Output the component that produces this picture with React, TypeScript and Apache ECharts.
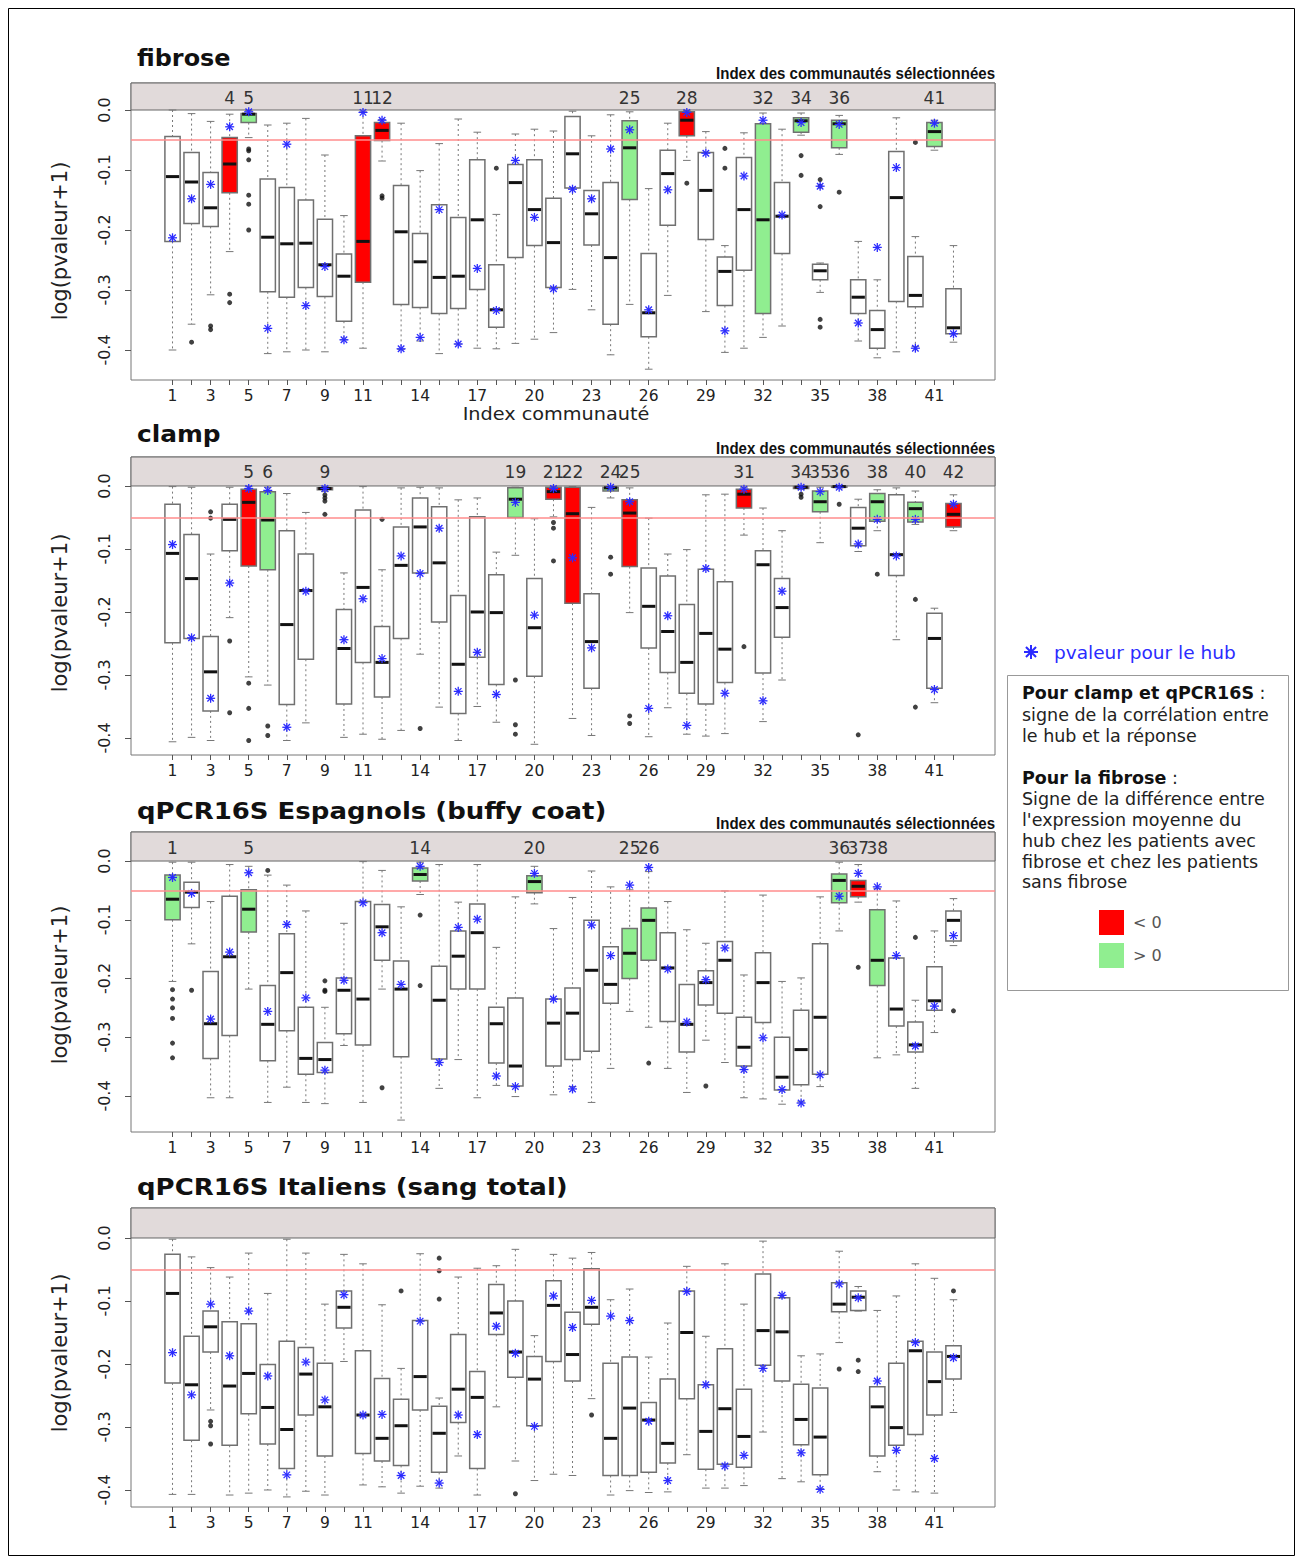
import React, { useEffect, useRef } from "react";
import * as echarts from "echarts";

// ---------- data ----------
const communities = [1,2,3,4,5,6,7,8,9,10,11,12,13,14,15,16,17,18,19,20,21,22,23,24,25,26,27,28,29,30,31,32,33,34,35,36,37,38,39,40,41,42];
const xTickLabels = [1,3,5,7,9,11,14,17,20,23,26,29,32,35,38,41];
const yTickValues = [0, -0.1, -0.2, -0.3, -0.4];
const threshold = -0.05;

// fibrose
const fibLow = [-0.40,-0.357,-0.308,-0.236,-0.046,-0.406,-0.403,-0.40,-0.403,-0.383,-0.397,-0.085,-0.399,-0.385,-0.406,-0.39,-0.397,-0.398,-0.389,-0.382,-0.371,-0.299,-0.333,-0.408,-0.324,-0.432,-0.309,-0.084,-0.336,-0.404,-0.397,-0.379,-0.36,-0.042,-0.304,-0.074,-0.385,-0.413,-0.403,-0.394,-0.067,-0.387];
const fibQ1 = [-0.219,-0.189,-0.194,-0.138,-0.021,-0.303,-0.312,-0.296,-0.311,-0.352,-0.287,-0.051,-0.324,-0.329,-0.339,-0.331,-0.299,-0.362,-0.246,-0.226,-0.296,-0.13,-0.225,-0.357,-0.149,-0.378,-0.192,-0.043,-0.216,-0.326,-0.267,-0.339,-0.239,-0.037,-0.283,-0.063,-0.339,-0.397,-0.319,-0.328,-0.061,-0.373];
const fibMed = [-0.111,-0.12,-0.163,-0.09,-0.007,-0.212,-0.223,-0.222,-0.258,-0.277,-0.219,-0.034,-0.203,-0.253,-0.279,-0.277,-0.183,-0.333,-0.121,-0.166,-0.221,-0.073,-0.173,-0.246,-0.063,-0.338,-0.106,-0.017,-0.134,-0.269,-0.166,-0.183,-0.177,-0.018,-0.268,-0.023,-0.312,-0.366,-0.146,-0.309,-0.036,-0.363];
const fibQ3 = [-0.044,-0.071,-0.104,-0.046,-0.006,-0.115,-0.129,-0.15,-0.182,-0.24,-0.043,-0.021,-0.126,-0.206,-0.158,-0.179,-0.083,-0.258,-0.091,-0.083,-0.147,-0.011,-0.134,-0.121,-0.018,-0.239,-0.067,-0.003,-0.071,-0.245,-0.079,-0.023,-0.121,-0.013,-0.257,-0.017,-0.283,-0.334,-0.069,-0.244,-0.021,-0.298];
const fibHigh = [0,-0.006,-0.019,-0.007,-0.001,-0.025,-0.022,-0.014,-0.075,-0.176,-0.003,-0.016,-0.022,-0.101,-0.056,-0.015,-0.037,-0.174,-0.04,-0.032,-0.035,-0.002,-0.043,-0.008,-0.003,-0.131,-0.022,-0.001,-0.036,-0.226,-0.038,-0.005,-0.032,-0.005,-0.255,-0.009,-0.219,-0.283,-0.013,-0.211,-0.017,-0.226];
const fibHub = [-0.213,-0.148,-0.124,-0.028,-0.003,-0.364,-0.057,-0.326,-0.261,-0.383,-0.004,-0.017,-0.398,-0.379,-0.166,-0.39,-0.264,-0.334,-0.084,-0.179,-0.298,-0.132,-0.148,-0.065,-0.033,-0.333,-0.133,-0.004,-0.072,-0.368,-0.11,-0.017,-0.175,-0.021,-0.127,-0.024,-0.355,-0.229,-0.096,-0.397,-0.022,-0.373];
const fibOut = [[2,-0.387],[3,-0.36],[3,-0.366],[4,-0.307],[4,-0.321],[5,-0.065],[5,-0.068],[5,-0.083],[5,-0.142],[5,-0.157],[5,-0.2],[12,-0.143],[12,-0.147],[18,-0.097],[28,-0.122],[30,-0.064],[30,-0.097],[34,-0.076],[34,-0.109],[35,-0.116],[35,-0.127],[35,-0.161],[35,-0.349],[35,-0.362],[36,-0.137],[40,-0.054]];
const fibRed = [4, 11, 12, 28];
const fibGreen = [5, 25, 32, 34, 36, 41];

// clamp
const clpLow = [-0.406,-0.399,-0.404,-0.209,-0.303,-0.316,-0.404,-0.376,-0.009,-0.399,-0.394,-0.402,-0.388,-0.267,-0.351,-0.404,-0.35,-0.375,-0.11,-0.41,-0.049,-0.369,-0.396,-0.019,-0.201,-0.398,-0.352,-0.394,-0.397,-0.393,-0.078,-0.374,-0.308,-0.005,-0.09,-0.003,-0.104,-0.071,-0.244,-0.061,-0.344,-0.071];
const clpQ1 = [-0.249,-0.242,-0.357,-0.103,-0.127,-0.133,-0.347,-0.275,-0.006,-0.346,-0.28,-0.335,-0.242,-0.138,-0.216,-0.361,-0.272,-0.315,-0.05,-0.302,-0.021,-0.186,-0.321,-0.008,-0.128,-0.257,-0.296,-0.329,-0.346,-0.312,-0.035,-0.297,-0.24,-0.004,-0.041,-0.002,-0.095,-0.056,-0.142,-0.057,-0.321,-0.065];
const clpMed = [-0.107,-0.147,-0.295,-0.053,-0.026,-0.054,-0.22,-0.166,-0.004,-0.258,-0.161,-0.28,-0.126,-0.065,-0.122,-0.283,-0.2,-0.201,-0.021,-0.225,-0.009,-0.044,-0.247,-0.003,-0.043,-0.191,-0.231,-0.28,-0.234,-0.259,-0.013,-0.125,-0.193,-0.002,-0.025,-0.001,-0.067,-0.025,-0.109,-0.036,-0.242,-0.045];
const clpQ3 = [-0.029,-0.077,-0.239,-0.029,-0.005,-0.009,-0.071,-0.108,-0.003,-0.196,-0.038,-0.223,-0.065,-0.019,-0.033,-0.174,-0.049,-0.141,-0.003,-0.147,-0.002,-0.002,-0.171,-0.002,-0.022,-0.13,-0.143,-0.188,-0.132,-0.152,-0.005,-0.103,-0.147,-0.001,-0.008,-0.0005,-0.034,-0.012,-0.014,-0.026,-0.202,-0.028];
const clpHigh = [-0.001,-0.002,-0.108,-0.002,-0.001,-0.002,-0.012,-0.042,-0.001,-0.138,-0.001,-0.133,-0.003,-0.002,-0.003,-0.022,-0.019,-0.105,-0.002,-0.052,-0.001,-0.001,-0.034,-0.001,-0.003,-0.051,-0.108,-0.101,-0.014,-0.013,-0.002,-0.035,-0.071,0,-0.002,0,-0.021,-0.006,-0.003,-0.008,-0.194,-0.014];
const clpHub = [-0.093,-0.241,-0.337,-0.154,-0.004,-0.007,-0.383,-0.167,-0.004,-0.244,-0.179,-0.274,-0.111,-0.139,-0.067,-0.326,-0.264,-0.331,-0.026,-0.205,-0.004,-0.114,-0.257,-0.002,-0.025,-0.353,-0.206,-0.38,-0.131,-0.329,-0.005,-0.341,-0.167,-0.002,-0.009,-0.002,-0.092,-0.053,-0.111,-0.053,-0.323,-0.029];
const clpOut = [[3,-0.041],[3,-0.051],[4,-0.246],[4,-0.36],[5,-0.313],[5,-0.353],[5,-0.404],[6,-0.381],[6,-0.396],[9,-0.014],[9,-0.019],[9,-0.024],[9,-0.045],[12,-0.053],[14,-0.385],[19,-0.308],[19,-0.379],[19,-0.394],[21,-0.058],[21,-0.067],[21,-0.119],[24,-0.113],[24,-0.14],[25,-0.365],[25,-0.377],[31,-0.255],[34,-0.013],[34,-0.018],[36,-0.029],[37,-0.395],[38,-0.14],[40,-0.18],[40,-0.351]];
const clpRed = [5, 9, 21, 22, 25, 31, 34, 42];
const clpGreen = [6, 19, 24, 35, 36, 38, 40];

// qPCR16S Espagnols
const espLow = [-0.205,-0.141,-0.403,-0.403,-0.218,-0.411,-0.385,-0.411,-0.413,-0.314,-0.411,-0.218,-0.441,-0.057,-0.387,-0.338,-0.403,-0.382,-0.401,-0.073,-0.398,-0.384,-0.411,-0.353,-0.256,-0.283,-0.353,-0.394,-0.305,-0.343,-0.403,-0.405,-0.414,-0.41,-0.384,-0.119,-0.07,-0.335,-0.33,-0.387,-0.292,-0.144];
const espQ1 = [-0.1,-0.079,-0.336,-0.297,-0.121,-0.34,-0.289,-0.363,-0.36,-0.294,-0.313,-0.169,-0.333,-0.034,-0.337,-0.218,-0.218,-0.344,-0.383,-0.054,-0.349,-0.338,-0.324,-0.242,-0.2,-0.169,-0.273,-0.325,-0.245,-0.259,-0.349,-0.275,-0.39,-0.381,-0.363,-0.071,-0.061,-0.212,-0.281,-0.325,-0.254,-0.136];
const espMed = [-0.065,-0.053,-0.277,-0.163,-0.082,-0.278,-0.19,-0.336,-0.338,-0.22,-0.235,-0.112,-0.218,-0.023,-0.237,-0.162,-0.122,-0.277,-0.349,-0.035,-0.276,-0.259,-0.186,-0.21,-0.157,-0.101,-0.182,-0.278,-0.207,-0.169,-0.317,-0.207,-0.368,-0.321,-0.266,-0.033,-0.043,-0.169,-0.252,-0.313,-0.238,-0.101];
const espQ3 = [-0.024,-0.036,-0.188,-0.06,-0.049,-0.212,-0.124,-0.249,-0.309,-0.199,-0.069,-0.074,-0.17,-0.012,-0.179,-0.119,-0.073,-0.249,-0.233,-0.025,-0.235,-0.216,-0.101,-0.146,-0.115,-0.08,-0.122,-0.21,-0.187,-0.137,-0.266,-0.156,-0.3,-0.254,-0.141,-0.022,-0.033,-0.083,-0.165,-0.274,-0.18,-0.085];
const espHigh = [-0.002,-0.002,-0.069,-0.006,-0.009,-0.024,-0.041,-0.085,-0.249,-0.106,-0.001,-0.016,-0.078,-0.002,-0.006,-0.07,-0.006,-0.147,-0.061,-0.009,-0.115,-0.062,-0.017,-0.044,-0.049,-0.018,-0.069,-0.117,-0.14,-0.051,-0.194,-0.058,-0.205,-0.199,-0.061,-0.002,-0.006,-0.047,-0.068,-0.237,-0.119,-0.064];
const espHub = [-0.028,-0.055,-0.269,-0.155,-0.02,-0.256,-0.108,-0.233,-0.356,-0.203,-0.071,-0.122,-0.21,-0.009,-0.343,-0.113,-0.099,-0.366,-0.384,-0.021,-0.235,-0.388,-0.109,-0.161,-0.041,-0.011,-0.184,-0.274,-0.202,-0.148,-0.355,-0.301,-0.389,-0.412,-0.364,-0.06,-0.021,-0.044,-0.161,-0.315,-0.247,-0.127];
const espOut = [[1,-0.219],[1,-0.235],[1,-0.25],[1,-0.268],[1,-0.31],[1,-0.335],[2,-0.22],[6,-0.016],[9,-0.204],[9,-0.22],[9,-0.222],[12,-0.386],[14,-0.092],[14,-0.212],[26,-0.344],[29,-0.383],[37,-0.181],[40,-0.13],[42,-0.255]];
const espRed = [37];
const espGreen = [1, 5, 14, 20, 25, 26, 36, 38];

// qPCR16S Italiens
const itaLow = [-0.407,-0.407,-0.273,-0.408,-0.405,-0.40,-0.411,-0.402,-0.408,-0.196,-0.392,-0.395,-0.405,-0.394,-0.397,-0.346,-0.408,-0.268,-0.354,-0.385,-0.375,-0.377,-0.255,-0.408,-0.401,-0.404,-0.403,-0.344,-0.397,-0.397,-0.393,-0.308,-0.382,-0.387,-0.398,-0.166,-0.116,-0.371,-0.40,-0.403,-0.405,-0.277];
const itaQ1 = [-0.23,-0.321,-0.181,-0.329,-0.279,-0.327,-0.366,-0.281,-0.346,-0.143,-0.342,-0.354,-0.361,-0.273,-0.372,-0.293,-0.366,-0.153,-0.221,-0.298,-0.196,-0.227,-0.137,-0.377,-0.377,-0.372,-0.357,-0.255,-0.367,-0.359,-0.364,-0.202,-0.227,-0.328,-0.376,-0.117,-0.115,-0.346,-0.329,-0.312,-0.281,-0.224];
const itaMed = [-0.088,-0.233,-0.141,-0.235,-0.215,-0.269,-0.304,-0.216,-0.268,-0.11,-0.281,-0.318,-0.298,-0.22,-0.31,-0.24,-0.253,-0.119,-0.181,-0.224,-0.107,-0.185,-0.11,-0.318,-0.27,-0.289,-0.326,-0.15,-0.307,-0.271,-0.315,-0.147,-0.149,-0.288,-0.316,-0.105,-0.094,-0.268,-0.301,-0.179,-0.228,-0.188];
const itaQ3 = [-0.026,-0.156,-0.116,-0.133,-0.136,-0.201,-0.164,-0.174,-0.199,-0.084,-0.179,-0.223,-0.256,-0.131,-0.267,-0.153,-0.212,-0.074,-0.1,-0.188,-0.068,-0.118,-0.049,-0.199,-0.189,-0.261,-0.224,-0.084,-0.233,-0.176,-0.24,-0.057,-0.095,-0.232,-0.238,-0.071,-0.084,-0.236,-0.199,-0.164,-0.181,-0.171];
const itaHigh = [-0.002,-0.03,-0.047,-0.062,-0.024,-0.088,-0.002,-0.024,-0.105,-0.026,-0.041,-0.106,-0.207,-0.025,-0.254,-0.062,-0.048,-0.044,-0.018,-0.155,-0.026,-0.032,-0.023,-0.098,-0.081,-0.189,-0.135,-0.045,-0.156,-0.041,-0.105,-0.005,-0.091,-0.187,-0.184,-0.021,-0.077,-0.115,-0.092,-0.041,-0.064,-0.098];
const itaHub = [-0.182,-0.249,-0.105,-0.187,-0.116,-0.219,-0.376,-0.197,-0.257,-0.09,-0.281,-0.28,-0.377,-0.132,-0.389,-0.281,-0.312,-0.14,-0.183,-0.299,-0.092,-0.142,-0.099,-0.124,-0.131,-0.291,-0.385,-0.085,-0.233,-0.362,-0.345,-0.207,-0.091,-0.341,-0.399,-0.073,-0.095,-0.227,-0.337,-0.166,-0.35,-0.19];
const itaOut = [[3,-0.291],[3,-0.298],[3,-0.327],[13,-0.084],[15,-0.032],[15,-0.052],[15,-0.097],[19,-0.406],[23,-0.281],[36,-0.208],[37,-0.194],[37,-0.212],[42,-0.084]];
const itaRed: number[] = [];
const itaGreen: number[] = [];

// ---------- styling ----------
const X_MIN = -1.18;
const X_MAX = 44.18;
const HUB_COLOR = "#2b2bff";
const FILLS = ["#ffffff", "#ff0000", "#90ee90"];
const FONT = "DejaVu Sans";

const panels = [
  { title: "fibrose", low: fibLow, q1: fibQ1, med: fibMed, q3: fibQ3, high: fibHigh, hub: fibHub, out: fibOut, red: fibRed, green: fibGreen, header: true, top: 83, height: 297, yMin: -0.45, yMax: 0.045, titleY: 58, headerY: 73, nameY: 241, titleScale: 1.04 },
  { title: "clamp", low: clpLow, q1: clpQ1, med: clpMed, q3: clpQ3, high: clpHigh, hub: clpHub, out: clpOut, red: clpRed, green: clpGreen, header: true, top: 457, height: 298, yMin: -0.427, yMax: 0.046, titleY: 434, headerY: 448, nameY: 613, titleScale: 1.08 },
  { title: "qPCR16S Espagnols (buffy coat)", low: espLow, q1: espQ1, med: espMed, q3: espQ3, high: espHigh, hub: espHub, out: espOut, red: espRed, green: espGreen, header: true, top: 832, height: 300, yMin: -0.4613, yMax: 0.0494, titleY: 811, headerY: 823, nameY: 985, titleScale: 1.13 },
  { title: "qPCR16S Italiens (sang total)", low: itaLow, q1: itaQ1, med: itaMed, q3: itaQ3, high: itaHigh, hub: itaHub, out: itaOut, red: itaRed, green: itaGreen, header: false, top: 1208, height: 299, yMin: -0.427, yMax: 0.0476, titleY: 1187, headerY: 0, nameY: 1353, titleScale: 1.13 },
];

const renderBox = (params: any, api: any) => {
  const x = api.value(0);
  const lo = api.coord([x, api.value(1)]);
  const q1 = api.coord([x, api.value(2)]);
  const md = api.coord([x, api.value(3)]);
  const q3 = api.coord([x, api.value(4)]);
  const hi = api.coord([x, api.value(5)]);
  const w = api.size([0.8, 0])[0];
  const cx = lo[0];
  const cap = w / 4;
  const fill = FILLS[api.value(6)];
  const dash = { stroke: "#777", lineWidth: 1, lineDash: [2, 3] };
  const solid = { stroke: "#777", lineWidth: 1 };
  return {
    type: "group",
    children: [
      { type: "line", shape: { x1: cx, y1: hi[1], x2: cx, y2: q3[1] }, style: dash },
      { type: "line", shape: { x1: cx, y1: q1[1], x2: cx, y2: lo[1] }, style: dash },
      { type: "line", shape: { x1: cx - cap, y1: hi[1], x2: cx + cap, y2: hi[1] }, style: solid },
      { type: "line", shape: { x1: cx - cap, y1: lo[1], x2: cx + cap, y2: lo[1] }, style: solid },
      { type: "rect", shape: { x: cx - w / 2, y: q3[1], width: w, height: Math.max(q1[1] - q3[1], 1) }, style: { fill, stroke: "#707070", lineWidth: 1.5 } },
      { type: "line", shape: { x1: cx - w / 2 + 1, y1: md[1], x2: cx + w / 2 - 1, y2: md[1] }, style: { stroke: "#111", lineWidth: 3 } },
    ],
  };
};

const renderStar = (params: any, api: any) => {
  const p = api.coord([api.value(0), api.value(1)]);
  const r = 4.5;
  const d = r * 0.72;
  const st = { stroke: HUB_COLOR, lineWidth: 1.3 };
  return {
    type: "group",
    children: [
      { type: "line", shape: { x1: p[0] - r, y1: p[1], x2: p[0] + r, y2: p[1] }, style: st },
      { type: "line", shape: { x1: p[0], y1: p[1] - r, x2: p[0], y2: p[1] + r }, style: st },
      { type: "line", shape: { x1: p[0] - d, y1: p[1] - d, x2: p[0] + d, y2: p[1] + d }, style: st },
      { type: "line", shape: { x1: p[0] - d, y1: p[1] + d, x2: p[0] + d, y2: p[1] - d }, style: st },
    ],
  };
};

const renderStripLabel = (params: any, api: any) => {
  const p = api.coord([api.value(0), api.value(1)]);
  return {
    type: "text",
    x: p[0],
    y: p[1] + 1,
    style: { text: String(api.value(0)), fill: "#333", fontSize: 17, fontFamily: FONT, align: "center", verticalAlign: "middle" },
  };
};

function buildOption() {
  const grid: any[] = [];
  const xAxis: any[] = [];
  const yAxis: any[] = [];
  const series: any[] = [];
  const graphic: any[] = [];

  graphic.push({ type: "rect", shape: { x: 8.5, y: 8.5, width: 1286, height: 1547 }, style: { fill: "none", stroke: "#000", lineWidth: 1 }, silent: true });

  panels.forEach((p, k) => {
    grid.push({ left: 131, width: 864, top: p.top, height: p.height, show: true, borderColor: "#777", borderWidth: 1, backgroundColor: "transparent" });
    xAxis.push({
      type: "value", gridIndex: k, min: X_MIN, max: X_MAX,
      axisLine: { show: false, onZero: false },
      splitLine: { show: false },
      axisTick: { show: true, customValues: communities, length: 5, lineStyle: { color: "#555" } },
      axisLabel: { customValues: xTickLabels, fontSize: 15.5, color: "#222", margin: 8, fontFamily: FONT },
    });
    yAxis.push({
      type: "value", gridIndex: k, min: p.yMin, max: p.yMax,
      axisLine: { show: false, onZero: false },
      splitLine: { show: false },
      axisTick: { show: true, customValues: yTickValues, length: 6, lineStyle: { color: "#555" } },
      axisLabel: { customValues: yTickValues, rotate: 90, fontSize: 16, color: "#222", margin: 19, fontFamily: FONT, formatter: (v: number) => v.toFixed(1) },
    });

    const boxData = communities.map((c, j) => [c, p.low[j], p.q1[j], p.med[j], p.q3[j], p.high[j], p.red.includes(c) ? 1 : p.green.includes(c) ? 2 : 0]);
    series.push({
      type: "custom", xAxisIndex: k, yAxisIndex: k, renderItem: renderBox, data: boxData, z: 2,
      encode: { x: 0, y: [1, 2, 3, 4, 5] },
      markArea: { silent: true, itemStyle: { color: "#e1dada", borderColor: "#666", borderWidth: 1 }, data: [[{ yAxis: 0 }, { yAxis: p.yMax }]] },
    });
    series.push({
      type: "scatter", xAxisIndex: k, yAxisIndex: k, data: p.out, symbol: "circle", symbolSize: 5, itemStyle: { color: "#111" }, z: 3,
      markLine: { silent: true, symbol: "none", label: { show: false }, lineStyle: { color: "#ff8c8c", width: 1.5, type: "solid" }, data: [{ yAxis: threshold }] },
    });
    series.push({
      type: "custom", xAxisIndex: k, yAxisIndex: k, renderItem: renderStar, z: 4,
      data: communities.map((c, j) => [c, p.hub[j]]),
    });
    const selected = [...p.red, ...p.green].sort((a, b) => a - b);
    if (selected.length) {
      series.push({
        type: "custom", xAxisIndex: k, yAxisIndex: k, renderItem: renderStripLabel, z: 5, clip: false,
        data: selected.map((c) => [c, p.yMax / 2]),
      });
    }

    graphic.push({ type: "text", x: 137, y: p.titleY, scaleX: p.titleScale, style: { text: p.title, fontSize: 23, fontWeight: "bold", fontFamily: FONT, fill: "#111", verticalAlign: "middle" } });
    if (p.header) {
      graphic.push({ type: "text", x: 995, y: p.headerY, scaleX: 0.94, style: { text: "Index des communautés sélectionnées", fontSize: 16, fontWeight: "bold", fontFamily: "Liberation Sans Narrow, Liberation Sans", fill: "#111", align: "right", verticalAlign: "middle" } });
    }
    graphic.push({ type: "text", x: 60, y: p.nameY, rotation: Math.PI / 2, style: { text: "log(pvaleur+1)", fontSize: 21, fontFamily: FONT, fill: "#222", align: "center", verticalAlign: "middle" } });
  });

  graphic.push({ type: "text", x: 556, y: 414, scaleX: 1.07, style: { text: "Index communauté", fontSize: 18, fontFamily: FONT, fill: "#222", align: "center", verticalAlign: "middle" } });

  // legend
  const lx = 1031, ly = 652, lr = 7, ld = lr * 0.72;
  const lst = { stroke: HUB_COLOR, lineWidth: 2 };
  graphic.push({
    type: "group",
    children: [
      { type: "line", shape: { x1: lx - lr, y1: ly, x2: lx + lr, y2: ly }, style: lst },
      { type: "line", shape: { x1: lx, y1: ly - lr, x2: lx, y2: ly + lr }, style: lst },
      { type: "line", shape: { x1: lx - ld, y1: ly - ld, x2: lx + ld, y2: ly + ld }, style: lst },
      { type: "line", shape: { x1: lx - ld, y1: ly + ld, x2: lx + ld, y2: ly - ld }, style: lst },
    ],
  });
  graphic.push({ type: "text", x: 1054, y: 652, style: { text: "pvaleur pour le hub", fontSize: 18.5, fontFamily: FONT, fill: HUB_COLOR, verticalAlign: "middle" } });
  graphic.push({ type: "rect", shape: { x: 1007.5, y: 675.5, width: 281, height: 315 }, style: { fill: "#fff", stroke: "#999", lineWidth: 1 } });
  const legendLines: [string, number][] = [
    ["{b|Pour clamp et qPCR16S} :", 693],
    ["signe de la corrélation entre", 715],
    ["le hub et la réponse", 736],
    ["{b|Pour la fibrose} :", 778],
    ["Signe de la différence entre", 799],
    ["l'expression moyenne du", 820],
    ["hub chez les patients avec", 841],
    ["fibrose et chez les patients", 862],
    ["sans fibrose", 882],
  ];
  legendLines.forEach(([t, y]) => {
    graphic.push({
      type: "text", x: 1022, y,
      style: { text: t, fontSize: 17.5, fontFamily: FONT, fill: "#222", verticalAlign: "middle", rich: { b: { fontSize: 17.5, fontFamily: FONT, fontWeight: "bold", fill: "#111" } } },
    });
  });
  graphic.push({ type: "rect", shape: { x: 1099, y: 910, width: 25, height: 25 }, style: { fill: FILLS[1] } });
  graphic.push({ type: "rect", shape: { x: 1099, y: 943, width: 25, height: 25 }, style: { fill: FILLS[2] } });
  graphic.push({ type: "text", x: 1133, y: 922, style: { text: "< 0", fontSize: 16, fontFamily: FONT, fill: "#555", verticalAlign: "middle" } });
  graphic.push({ type: "text", x: 1133, y: 955, style: { text: "> 0", fontSize: 16, fontFamily: FONT, fill: "#555", verticalAlign: "middle" } });

  return { animation: false, backgroundColor: "#fff", grid, xAxis, yAxis, series, graphic };
}

export default function App() {
  const ref = useRef<HTMLDivElement>(null);
  useEffect(() => {
    const chart = echarts.init(ref.current!, null, { renderer: "svg" });
    chart.setOption(buildOption() as any);
    return () => chart.dispose();
  }, []);
  return <div ref={ref} style={{ position: "absolute", left: 0, top: 0, width: 1296, height: 1558, background: "#fff" }} />;
}
